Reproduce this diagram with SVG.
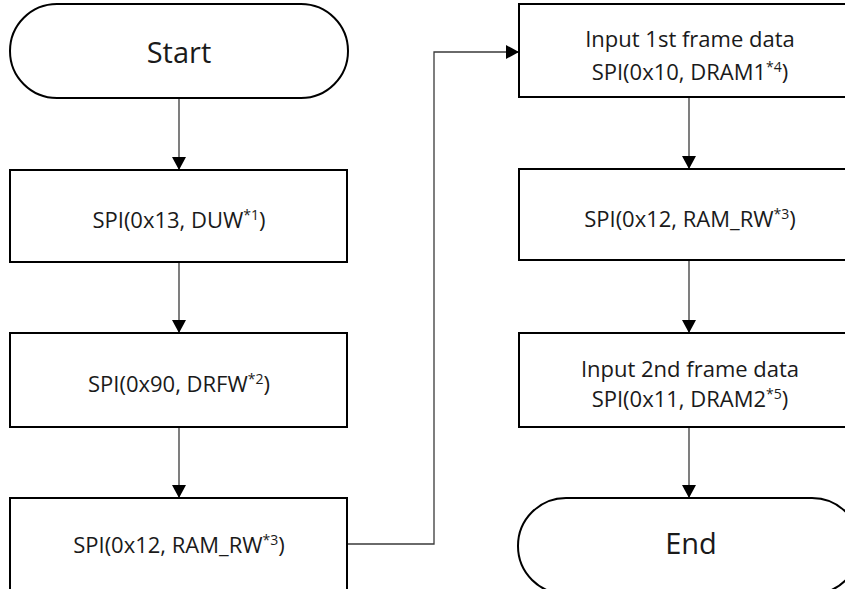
<svg xmlns="http://www.w3.org/2000/svg" width="845" height="589" viewBox="0 0 845 589">
<style>
.box{fill:#fff;stroke:#000;stroke-width:2}
.t{font-family:"Open Sans","Noto Sans","Liberation Sans",sans-serif;font-size:22px;fill:#1a1a1a;text-anchor:middle}
.big{font-size:29px}
.sup{font-size:14px}
.c{fill:none;stroke:#3a3a3a;stroke-width:1.3}
</style>
<defs>
<marker id="arr" markerUnits="userSpaceOnUse" markerWidth="14" markerHeight="14" viewBox="0 0 14 14" refX="13" refY="7" orient="auto">
<path d="M0,0 L13,7 L0,14 Z" fill="#000"/>
</marker>
</defs>
<rect width="845" height="589" fill="#fff"/>
<g id="connectors">
<line class="c" x1="179" y1="98" x2="179" y2="170" marker-end="url(#arr)"/>
<line class="c" x1="179" y1="262" x2="179" y2="333" marker-end="url(#arr)"/>
<line class="c" x1="179" y1="427" x2="179" y2="498" marker-end="url(#arr)"/>
<polyline class="c" points="347,544 434,544 434,52 519,52" marker-end="url(#arr)"/>
<line class="c" x1="689" y1="97" x2="689" y2="169" marker-end="url(#arr)"/>
<line class="c" x1="689" y1="260" x2="689" y2="333" marker-end="url(#arr)"/>
<line class="c" x1="689" y1="427" x2="689" y2="498" marker-end="url(#arr)"/>
</g>
<g id="start">
<rect class="box" x="10" y="4" width="338" height="94" rx="47" ry="47"/>
<text class="t big" x="179" y="63">Start</text>
</g>
<g id="duw">
<rect class="box" x="10" y="170" width="337" height="92"/>
<text class="t" x="179" y="228">SPI(0x13, DUW<tspan class="sup" dy="-8">*1</tspan><tspan dy="8">)</tspan></text>
</g>
<g id="drfw">
<rect class="box" x="10" y="333" width="337" height="94"/>
<text class="t" x="179" y="392">SPI(0x90, DRFW<tspan class="sup" dy="-8">*2</tspan><tspan dy="8">)</tspan></text>
</g>
<g id="ramrw1">
<rect class="box" x="10" y="498" width="337" height="94"/>
<text class="t" x="179" y="553">SPI(0x12, RAM_RW<tspan class="sup" dy="-8">*3</tspan><tspan dy="8">)</tspan></text>
</g>
<g id="frame1">
<rect class="box" x="519" y="4" width="340" height="93"/>
<text class="t" x="690" y="47">Input 1st frame data</text>
<text class="t" x="690" y="80">SPI(0x10, DRAM1<tspan class="sup" dy="-8">*4</tspan><tspan dy="8">)</tspan></text>
</g>
<g id="ramrw2">
<rect class="box" x="519" y="169" width="340" height="91"/>
<text class="t" x="690" y="227">SPI(0x12, RAM_RW<tspan class="sup" dy="-8">*3</tspan><tspan dy="8">)</tspan></text>
</g>
<g id="frame2">
<rect class="box" x="519" y="333" width="340" height="94"/>
<text class="t" x="690" y="377">Input 2nd frame data</text>
<text class="t" x="690" y="407">SPI(0x11, DRAM2<tspan class="sup" dy="-8">*5</tspan><tspan dy="8">)</tspan></text>
</g>
<g id="end">
<rect class="box" x="518" y="498" width="342" height="96" rx="48" ry="48"/>
<text class="t big" x="691" y="554">End</text>
</g>
</svg>
